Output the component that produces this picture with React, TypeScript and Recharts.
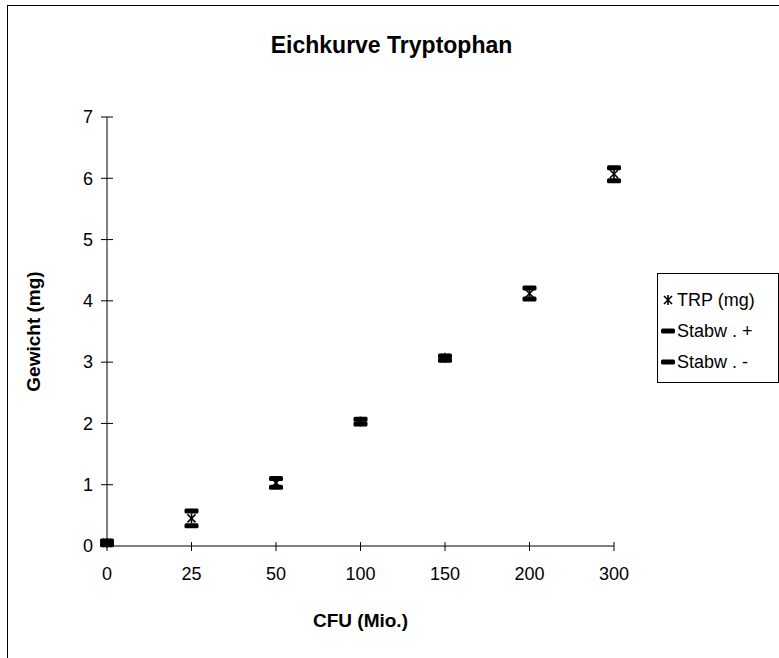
import React from 'react';
import { LineChart, Line, XAxis, YAxis, Label } from 'recharts';

// CFU (Mio.) categories and measured weights in mg
const categories = ['0', '25', '50', '100', '150', '200', '300'];
const trp = [0.05, 0.45, 1.03, 2.03, 3.07, 4.12, 6.07];
const stabwPlus = [0.08, 0.57, 1.1, 2.07, 3.1, 4.21, 6.17];
const stabwMinus = [0.02, 0.33, 0.96, 1.99, 3.03, 4.03, 5.96];
const yTicks = [0, 1, 2, 3, 4, 5, 6, 7];

const data = categories.map((c, i) => ({
  cfu: c,
  trp: trp[i],
  plus: stabwPlus[i],
  minus: stabwMinus[i],
}));

const FONT = '"Liberation Sans", Arial, sans-serif';

const StarDot = (props: any) => {
  const { cx, cy } = props;
  if (cx == null || cy == null) return null;
  return (
    <g stroke="#000" strokeWidth={1.6}>
      <line x1={cx - 4} y1={cy - 4} x2={cx + 4} y2={cy + 4} />
      <line x1={cx - 4} y1={cy + 4} x2={cx + 4} y2={cy - 4} />
      <line x1={cx} y1={cy - 5} x2={cx} y2={cy + 5} />
    </g>
  );
};

const DashDot = (props: any) => {
  const { cx, cy } = props;
  if (cx == null || cy == null) return null;
  return <rect x={cx - 7} y={cy - 2.5} width={14} height={5} rx={1.5} fill="#000" />;
};

const YTick = (props: any) => {
  const { x, y, payload } = props;
  return (
    <g>
      <line x1={x - 6} y1={y} x2={x + 6} y2={y} stroke="#000" />
      <text x={x - 14} y={y} dy="0.35em" textAnchor="end" fontSize={18} fontFamily={FONT} fill="#000">
        {payload.value}
      </text>
    </g>
  );
};

const XTick = (props: any) => {
  const { x, y, payload } = props;
  return (
    <g>
      <line x1={x} y1={y - 4} x2={x} y2={y + 5} stroke="#000" />
      <text x={x} y={y + 34} textAnchor="middle" fontSize={18} fontFamily={FONT} fill="#000">
        {payload.value}
      </text>
    </g>
  );
};

const legendItems = [
  { name: 'TRP (mg)', marker: 'star' },
  { name: 'Stabw . +', marker: 'dash' },
  { name: 'Stabw . -', marker: 'dash' },
];

export default function App() {
  return (
    <div style={{ position: 'absolute', left: 0, top: 0, width: 779, height: 658, overflow: 'hidden', fontFamily: FONT, background: '#fff' }}>
      {/* outer chart frame */}
      <div style={{ position: 'absolute', left: 7, top: 5, width: 800, height: 700, border: '1px solid #000' }} />
      <div style={{ position: 'absolute', left: 0, top: 32, width: 779, textAlign: 'center', fontSize: 23, fontWeight: 'bold', paddingLeft: 2 }}>
        Eichkurve Tryptophan
      </div>
      <div style={{ position: 'absolute', left: 0, top: 0 }}>
        <LineChart width={779} height={658} data={data} margin={{ top: 117, right: 165, bottom: 82, left: 67 }}>
          <XAxis
            dataKey="cfu"
            type="category"
            scale="point"
            height={30}
            axisLine={{ stroke: '#000' }}
            tickLine={false}
            tickSize={0}
            tickMargin={0}
            tick={<XTick />}
            interval={0}
          >
            <Label
              content={(p: any) => {
                const vb = p.viewBox;
                return (
                  <text x={vb.x + vb.width / 2} y={vb.y + 81} textAnchor="middle" fontSize={19} fontWeight="bold" fontFamily={FONT} fill="#000">
                    CFU (Mio.)
                  </text>
                );
              }}
            />
          </XAxis>
          <YAxis
            type="number"
            domain={[0, 7]}
            ticks={yTicks}
            width={40}
            axisLine={{ stroke: '#000' }}
            tickLine={false}
            tickSize={0}
            tickMargin={0}
            tick={<YTick />}
            interval={0}
          >
            <Label
              content={(p: any) => {
                const vb = p.viewBox;
                const lx = vb.x - 34;
                const ly = vb.y + vb.height / 2;
                return (
                  <text x={lx} y={ly} transform={`rotate(-90 ${lx} ${ly})`} textAnchor="middle" dy="0.35em" fontSize={19} fontWeight="bold" fontFamily={FONT} fill="#000">
                    Gewicht (mg)
                  </text>
                );
              }}
            />
          </YAxis>
          <Line dataKey="minus" name="Stabw . -" stroke="none" isAnimationActive={false} activeDot={false}
            dot={(p: any) => <DashDot key={`m${p.index}`} cx={p.cx} cy={p.cy} />} />
          <Line dataKey="plus" name="Stabw . +" stroke="none" isAnimationActive={false} activeDot={false}
            dot={(p: any) => <DashDot key={`p${p.index}`} cx={p.cx} cy={p.cy} />} />
          <Line dataKey="trp" name="TRP (mg)" stroke="none" isAnimationActive={false} activeDot={false}
            dot={(p: any) => <StarDot key={`t${p.index}`} cx={p.cx} cy={p.cy} />} />
        </LineChart>
      </div>
      {/* legend */}
      <div style={{ position: 'absolute', left: 657, top: 273, width: 122, height: 110, border: '1px solid #000', boxSizing: 'border-box', background: '#fff' }}>
        {legendItems.map((it, i) => (
          <div key={it.name} style={{ position: 'absolute', left: 3, top: 15 + i * 31, height: 22, display: 'flex', alignItems: 'center', fontSize: 18, whiteSpace: 'nowrap' }}>
            <svg width={14} height={14} style={{ marginRight: 2 }}>
              {it.marker === 'star' ? <StarDot cx={7} cy={7} /> : <DashDot cx={7} cy={7} />}
            </svg>
            <span>{it.name}</span>
          </div>
        ))}
      </div>
    </div>
  );
}
